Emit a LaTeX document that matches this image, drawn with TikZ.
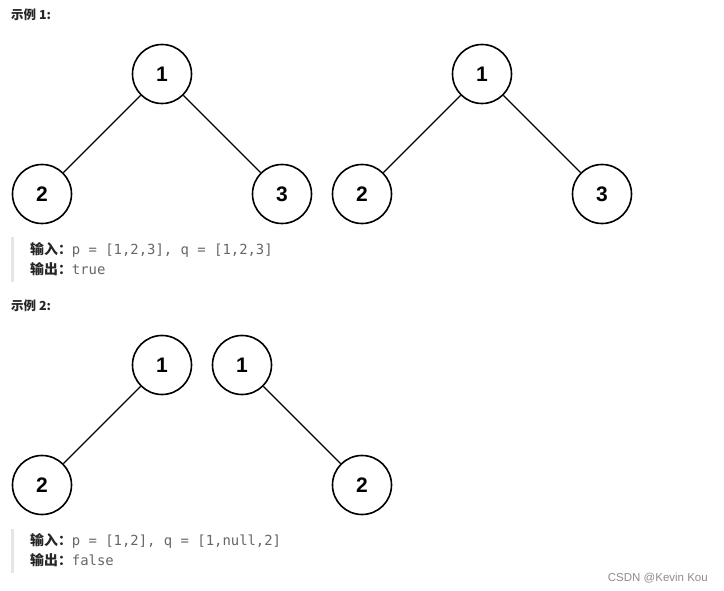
\documentclass[tikz,border=0pt]{standalone}
\usepackage{fontspec}
\setmainfont{Liberation Sans}
\setmonofont{DejaVu Sans Mono}
\newfontfamily\cjkfont{Noto Sans CJK SC}
\usetikzlibrary{positioning}

\begin{document}
\begin{tikzpicture}[
    x=1pt, y=-1pt,
    tnode/.style={circle, draw, line width=1.6pt, minimum size=59pt, inner sep=0pt, font=\fontsize{21}{21}\selectfont\bfseries},
    edge/.style={line width=1.3pt},
    title/.style={anchor=west, inner sep=0pt, font=\cjkfont\fontsize{12.5}{13}\selectfont\bfseries, text=black!85},
    code/.style={anchor=west, inner sep=0pt, font=\fontsize{13.9}{14}\selectfont, text=black!60},
    quotebar/.style={fill=black!10, draw=none}
]
\useasboundingbox (0,0) rectangle (724,591);

% Example 1
\node[title] (t1) at (11,15) {示例 1:};
\node[tnode] (a1) at (162,74) {1};
\node[tnode] (a2) at (42,194) {2};
\node[tnode] (a3) at (282,194) {3};
\node[tnode] (b1) at (482,74) {1};
\node[tnode] (b2) at (362,194) {2};
\node[tnode] (b3) at (602,194) {3};

\draw[edge] (a1) -- (a2);
\draw[edge] (a1) -- (a3);
\draw[edge] (b1) -- (b2);
\draw[edge] (b1) -- (b3);

\fill[quotebar] (11,237) rectangle (14,282);
\node[code] (in1) at (30,250) {{\cjkfont\bfseries\color{black!85}输入：}\ttfamily p = [1,2,3], q = [1,2,3]};
\node[code] (out1) at (30,269) {{\cjkfont\bfseries\color{black!85}输出：}\ttfamily true};

% Example 2
\node[title] (t2) at (11,306) {示例 2:};
\node[tnode] (c1) at (162,365) {1};
\node[tnode] (c2) at (42,485) {2};
\node[tnode] (d1) at (242,365) {1};
\node[tnode] (d2) at (362,485) {2};

\draw[edge] (c1) -- (c2);
\draw[edge] (d1) -- (d2);

\fill[quotebar] (11,529) rectangle (14,573);
\node[code] (in2) at (30,541) {{\cjkfont\bfseries\color{black!85}输入：}\ttfamily p = [1,2], q = [1,null,2]};
\node[code] (out2) at (30,560) {{\cjkfont\bfseries\color{black!85}输出：}\ttfamily false};

% Watermark
\node[anchor=east, inner sep=0pt, font=\fontsize{11.5}{12}\selectfont, text=black!45] (mark) at (708,578) {CSDN @Kevin Kou};

\end{tikzpicture}
\end{document}
